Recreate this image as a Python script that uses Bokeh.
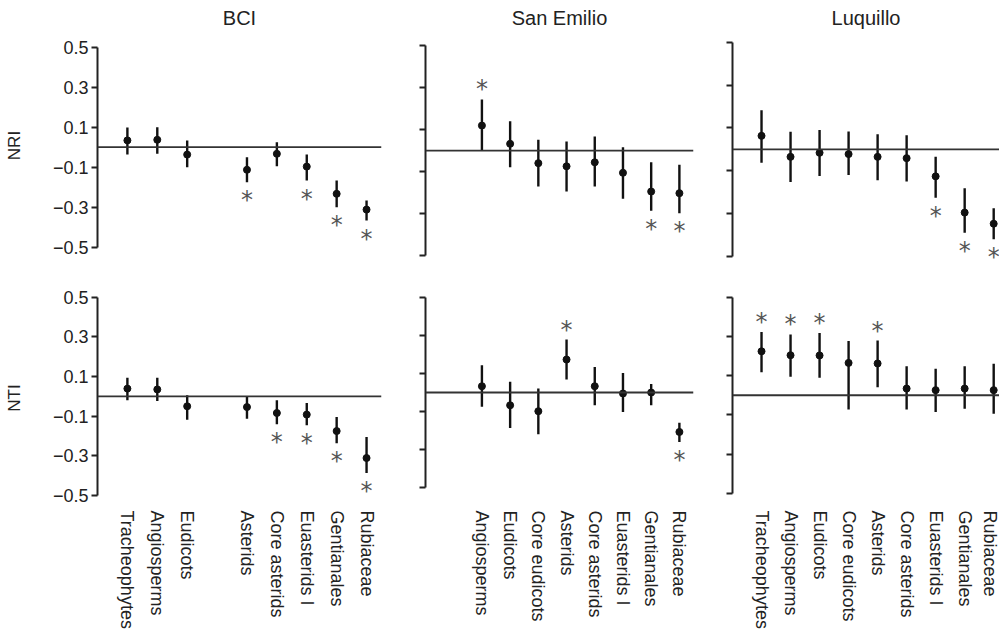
from bokeh.plotting import figure
from bokeh.models import Range1d, FixedTicker, Span, ColumnDataSource
from bokeh.layouts import row, column
from bokeh.embed import file_html
from bokeh.resources import INLINE
from bokeh.core.properties import value

# ---------------- data ----------------
categories = ["Tracheophytes", "Angiosperms", "Eudicots", "Core eudicots", "Asterids",
              "Core asterids", "Euasterids I", "Gentianales", "Rubiaceae"]
sites = ["BCI", "San Emilio", "Luquillo"]
metrics = ["NRI", "NTI"]
y_ticks = [-0.5, -0.3, -0.1, 0.1, 0.3, 0.5]

# BCI (no Core eudicots)
bci_nri_mean = [0.034, 0.037, -0.037, None, -0.113, -0.033, -0.097, -0.233, -0.312]
bci_nri_hi   = [0.099, 0.100, 0.034, None, -0.050, 0.025, -0.037, -0.167, -0.267]
bci_nri_lo   = [-0.037, -0.033, -0.100, None, -0.175, -0.095, -0.167, -0.300, -0.367]
bci_nri_sig  = [0, 0, 0, None, 1, 0, 1, 1, 1]

bci_nti_mean = [0.039, 0.035, -0.050, None, -0.054, -0.084, -0.092, -0.175, -0.311]
bci_nti_hi   = [0.094, 0.094, 0.005, None, 0.000, -0.020, -0.034, -0.104, -0.205]
bci_nti_lo   = [-0.020, -0.024, -0.118, None, -0.113, -0.141, -0.146, -0.236, -0.387]
bci_nti_sig  = [0, 0, 0, None, 0, 1, 1, 1, 1]

# San Emilio (no Tracheophytes)
sem_nri_mean = [None, 0.119, 0.032, -0.060, -0.075, -0.056, -0.106, -0.195, -0.203]
sem_nri_hi   = [None, 0.243, 0.140, 0.051, 0.043, 0.067, 0.016, -0.056, -0.068]
sem_nri_lo   = [None, 0.000, -0.080, -0.171, -0.195, -0.171, -0.230, -0.287, -0.299]
sem_nri_sig  = [None, 1, 0, 0, 0, 0, 0, 1, 1]

sem_nti_mean = [None, 0.033, -0.067, -0.098, 0.173, 0.033, -0.005, 0.000, -0.207]
sem_nti_hi   = [None, 0.143, 0.056, 0.021, 0.278, 0.134, 0.103, 0.044, -0.159]
sem_nti_lo   = [None, -0.075, -0.186, -0.219, 0.068, -0.067, -0.102, -0.067, -0.259]
sem_nti_sig  = [None, 0, 0, 0, 1, 0, 0, 0, 1]

# Luquillo
luq_nri_mean = [0.063, -0.035, -0.016, -0.022, -0.035, -0.041, -0.126, -0.295, -0.347]
luq_nri_hi   = [0.183, 0.082, 0.090, 0.083, 0.071, 0.066, -0.035, -0.181, -0.275]
luq_nri_lo   = [-0.062, -0.152, -0.124, -0.120, -0.144, -0.150, -0.226, -0.389, -0.420]
luq_nri_sig  = [0, 0, 0, 0, 0, 0, 1, 1, 1]

luq_nti_mean = [0.224, 0.204, 0.203, 0.165, 0.162, 0.034, 0.026, 0.034, 0.026]
luq_nti_hi   = [0.323, 0.310, 0.318, 0.276, 0.279, 0.148, 0.135, 0.148, 0.160]
luq_nti_lo   = [0.117, 0.094, 0.089, -0.073, 0.041, -0.073, -0.085, -0.069, -0.095]
luq_nti_sig  = [1, 1, 1, 0, 1, 0, 0, 0, 0]

# ---------------- styling ----------------
FONT = "Liberation Sans"
INK = "#111111"
STAR = "#555555"


def fmt(t):
    return f"{t:.1f}".replace("-", "\u2212")


def panel(mean, hi, lo, sig, *, x_end, y_lim, fw, fh, bl, br, bt, bb,
          title=None, ylabel=None, xlabels=False, xstand=0):
    p = figure(output_backend="svg", toolbar_location=None,
               x_range=Range1d(0, x_end), y_range=Range1d(*y_lim),
               frame_width=fw, frame_height=fh,
               min_border_left=bl, min_border_right=br,
               min_border_top=bt, min_border_bottom=bb,
               x_axis_location="below" if xlabels else None,
               title=title)
    p.outline_line_color = None
    p.xgrid.visible = False
    p.ygrid.visible = False
    p.background_fill_color = "white"
    p.border_fill_color = "white"

    if title:
        p.title.align = "center"
        p.title.text_font = FONT
        p.title.text_font_size = "20px"
        p.title.text_font_style = "normal"
        p.title.text_color = "#222222"
        p.title.standoff = 0

    ya = p.yaxis[0]
    ya.ticker = FixedTicker(ticks=y_ticks)
    ya.bounds = (-0.5, 0.5)
    ya.axis_line_width = 2
    ya.axis_line_color = "#222222"
    ya.major_tick_line_width = 2
    ya.major_tick_line_color = "#222222"
    ya.major_tick_out = 6
    ya.major_tick_in = 0
    ya.minor_tick_line_color = None
    ya.major_label_text_font = FONT
    if ylabel:
        ya.major_label_overrides = {t: fmt(t) for t in y_ticks}
        ya.major_label_text_font_size = "18px"
        ya.major_label_text_color = "#222222"
        ya.major_label_standoff = 3
        ya.axis_label = ylabel
        ya.axis_label_text_font = FONT
        ya.axis_label_text_font_size = "17px"
        ya.axis_label_text_font_style = "normal"
        ya.axis_label_text_color = "#222222"
        ya.axis_label_standoff = 26
    else:
        ya.major_label_text_color = None
        ya.major_label_text_font_size = "2px"
        ya.major_label_standoff = 0

    xs = [i + 1 for i, m in enumerate(mean) if m is not None]
    if xlabels:
        xa = p.xaxis[0]
        xa.ticker = FixedTicker(ticks=xs)
        xa.major_label_overrides = {i + 1: c for i, c in enumerate(categories) if mean[i] is not None}
        xa.major_label_orientation = "vertical"
        xa.major_label_text_font = FONT
        xa.major_label_text_font_size = "18px"
        xa.major_label_text_color = "#222222"
        xa.major_label_standoff = xstand
        xa.axis_line_color = None
        xa.major_tick_line_color = None
        xa.minor_tick_line_color = None
        xa.major_tick_out = 0
        xa.major_tick_in = 0

    p.add_layout(Span(location=0, dimension="width", line_color="#333333", line_width=1.8))

    idx = [i for i, m in enumerate(mean) if m is not None]
    src = ColumnDataSource(dict(
        x=[i + 1 for i in idx],
        m=[mean[i] for i in idx],
        lo=[lo[i] for i in idx],
        hi=[hi[i] for i in idx],
    ))
    p.segment(x0="x", y0="lo", x1="x", y1="hi", source=src, line_width=2.4, line_color=INK)
    p.scatter(x="x", y="m", source=src, size=7, color=INK)

    neg = [i for i in idx if sig[i] and mean[i] < 0]
    pos = [i for i in idx if sig[i] and mean[i] >= 0]
    if neg:
        p.text(x=[i + 1 for i in neg], y=[lo[i] for i in neg], text=["*"] * len(neg),
               text_font=value("DejaVu Sans"), text_font_size="24px", text_color=STAR,
               text_align="center", text_baseline="middle", y_offset=18)
    if pos:
        p.text(x=[i + 1 for i in pos], y=[hi[i] for i in pos], text=["*"] * len(pos),
               text_font=value("DejaVu Sans"), text_font_size="24px", text_color=STAR,
               text_align="center", text_baseline="middle", y_offset=-10)
    return p


# common frame geometry per row; per-panel vertical scale via the y range
TOP_FH, TOP_BT, TOP_BB = 234, 28, 18
BOT_FH, BOT_BT, BOT_BB = 225, 5, 126

a = panel(bci_nri_mean, bci_nri_hi, bci_nri_lo, bci_nri_sig, x_end=9.5, y_lim=(-0.5765, 0.5935),
          fw=284, fh=TOP_FH, bl=97, br=7, bt=TOP_BT, bb=TOP_BB, title=sites[0], ylabel=metrics[0])
b = panel(sem_nri_mean, sem_nri_hi, sem_nri_lo, sem_nri_sig, x_end=9.5, y_lim=(-0.533, 0.581),
          fw=268, fh=TOP_FH, bl=37, br=7, bt=TOP_BT, bb=TOP_BB, title=sites[1])
c = panel(luq_nri_mean, luq_nri_hi, luq_nri_lo, luq_nri_sig, x_end=9.2, y_lim=(-0.528, 0.564),
          fw=267, fh=TOP_FH, bl=32, br=0, bt=TOP_BT, bb=TOP_BB, title=sites[2])

d = panel(bci_nti_mean, bci_nti_hi, bci_nti_lo, bci_nti_sig, x_end=9.5, y_lim=(-0.5756, 0.559),
          fw=284, fh=BOT_FH, bl=97, br=7, bt=BOT_BT, bb=BOT_BB, ylabel=metrics[1], xlabels=True)
e = panel(sem_nti_mean, sem_nti_hi, sem_nti_lo, sem_nti_sig, x_end=9.5, y_lim=(-0.619, 0.5614),
          fw=268, fh=BOT_FH, bl=37, br=7, bt=BOT_BT, bb=BOT_BB, xlabels=True)
f = panel(luq_nti_mean, luq_nti_hi, luq_nti_lo, luq_nti_sig, x_end=9.2, y_lim=(-0.588, 0.5597),
          fw=267, fh=BOT_FH, bl=32, br=0, bt=BOT_BT, bb=BOT_BB, xlabels=True)

layout = column(row(a, b, c), row(d, e, f))

with open("out.html", "w") as fh_:
    fh_.write(file_html(layout, INLINE))
